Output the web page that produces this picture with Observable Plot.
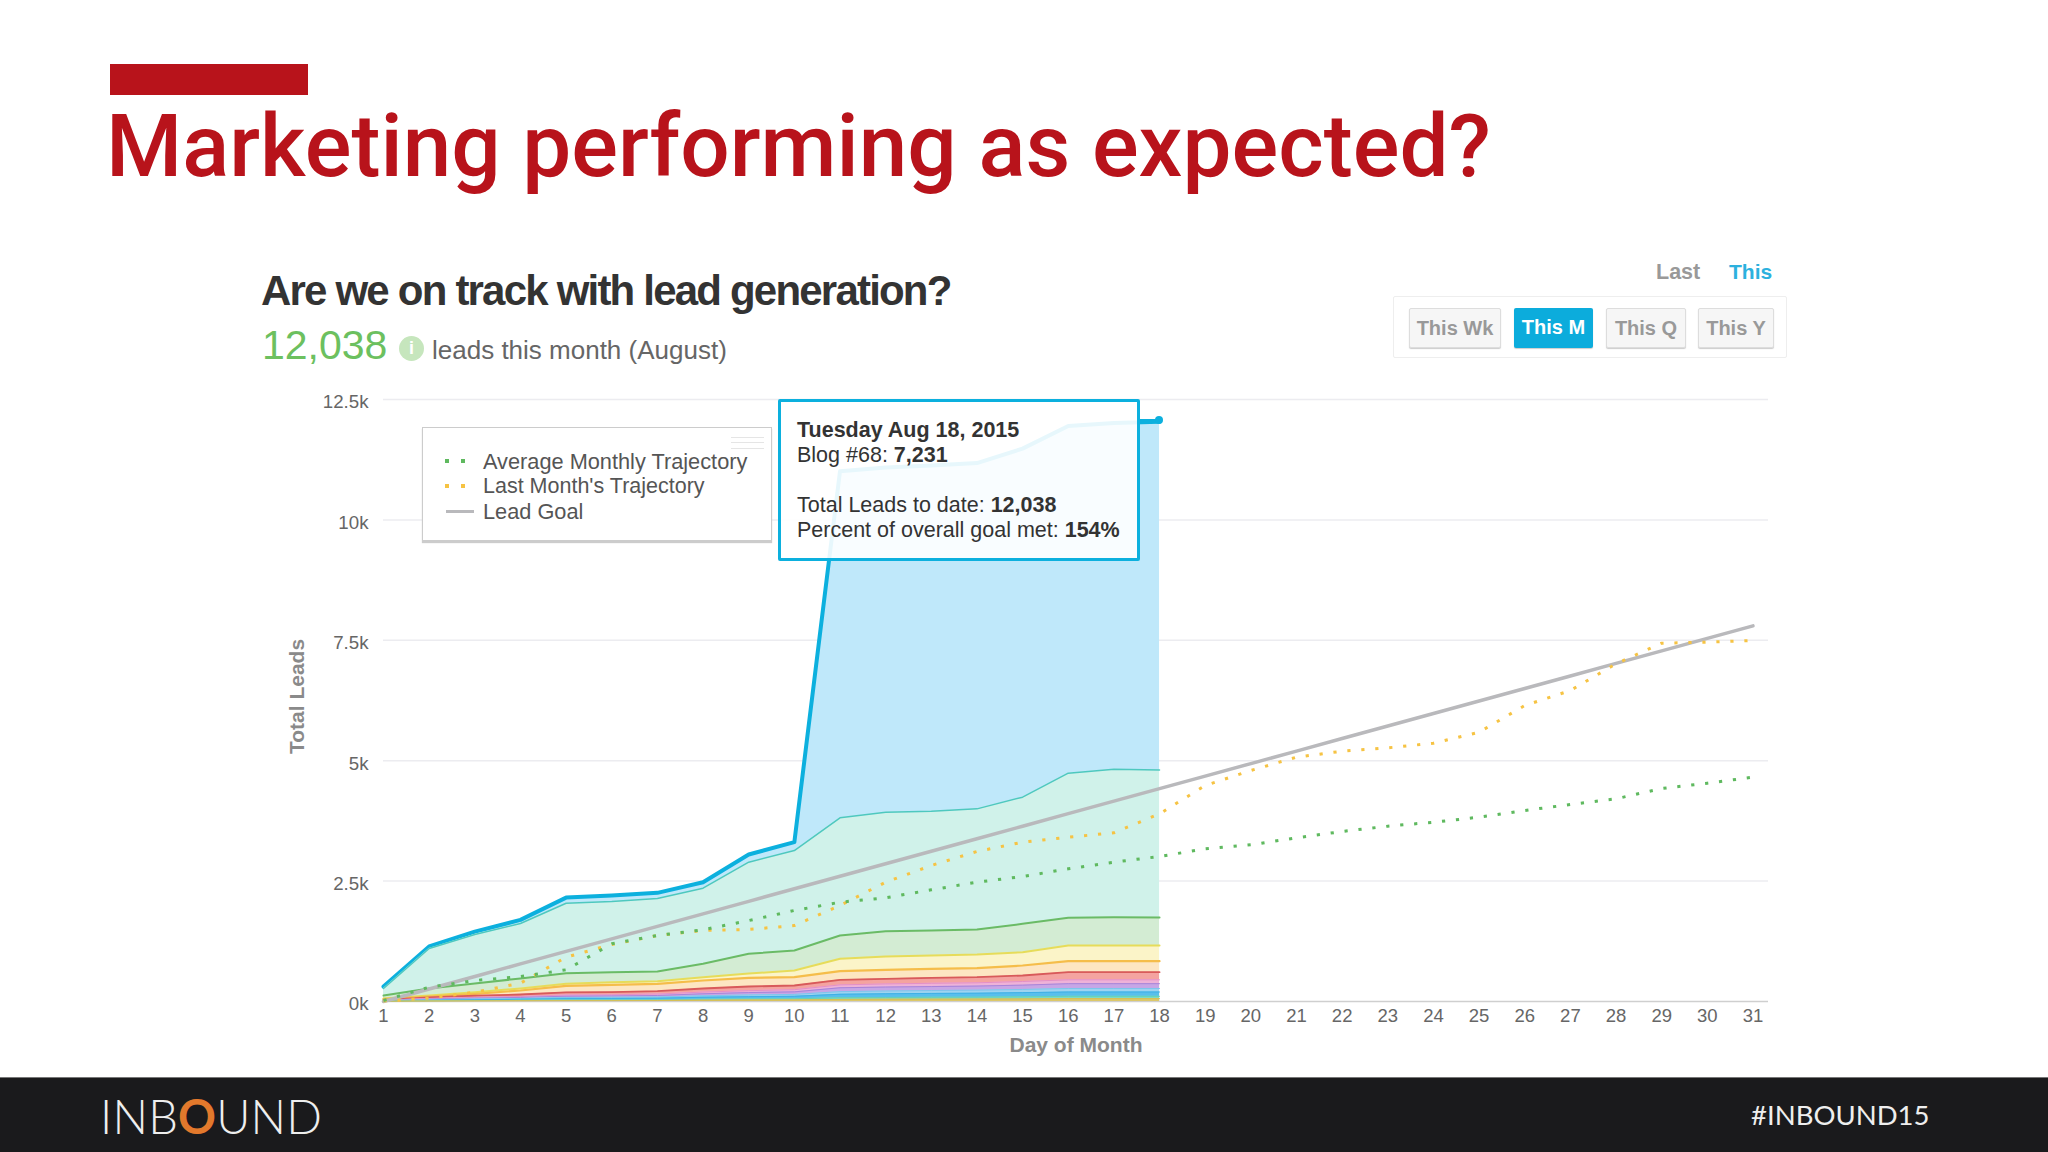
<!DOCTYPE html>
<html><head><meta charset="utf-8">
<script src="https://cdn.jsdelivr.net/npm/d3@7"></script>
<script src="https://cdn.jsdelivr.net/npm/@observablehq/plot@0.6"></script>
<style>
html,body{margin:0;padding:0;background:#fff;width:2048px;height:1152px;overflow:hidden;font-family:"Liberation Sans",Arial,sans-serif}
.a{position:absolute;white-space:nowrap;line-height:1}
#chart{position:absolute;left:270px;top:380px}
.btn{position:absolute;top:308px;height:38px;line-height:38px;text-align:center;font-size:20px;font-weight:bold;color:#999;background:#f6f6f6;border:1px solid #ddd;box-shadow:0 1px 1px #ccc;border-radius:2px}
.dot{position:absolute;width:4px;height:4px}
</style></head><body>
<div class="a" style="left:110px;top:64px;width:198px;height:31px;background:#b8131b"></div>
<div class="a" id="title" style="left:106px;top:95px;font:500 87.2px Roboto,sans-serif;color:#b8131b">Marketing performing as expected?</div>
<div class="a" style="left:261px;top:267px;font:bold 42px 'Liberation Sans';letter-spacing:-1.8px;color:#333">Are we on track with lead generation?</div>
<div class="a" style="left:262px;top:322px;font:400 41px 'Liberation Sans';color:#6cc05f">12,038</div>
<div class="a" style="left:399px;top:336px;width:25px;height:25px;border-radius:50%;background:#c6e6bd;color:#fff;font:bold 18px/25px 'Liberation Sans';text-align:center">i</div>
<div class="a" style="left:432px;top:335px;font:26px 'Liberation Sans';color:#666">leads this month (August)</div>
<div class="a" style="left:1656px;top:260px;font:bold 21.5px 'Liberation Sans';color:#999">Last</div>
<div class="a" style="left:1729px;top:260px;font:bold 21px 'Liberation Sans';color:#2cb1de">This</div>
<div class="a" style="left:1393px;top:296px;width:392px;height:60px;border:1px solid #eee;border-radius:2px"></div>
<div class="btn" style="left:1409px;width:90px">This Wk</div>
<div class="btn" style="left:1514px;width:79px;height:40px;background:#0cacdc;color:#fff;border:0">This M</div>
<div class="btn" style="left:1606px;width:78px">This Q</div>
<div class="btn" style="left:1698px;width:74px">This Y</div>
<div id="chart"></div>
<div class="a" style="left:422px;top:427px;width:348px;height:112px;background:#fff;border:1px solid #ccc;box-shadow:0 2px 1px #ccc"></div>
<div class="a" style="left:731px;top:437px;width:33px;height:10px;border-top:1px solid #e5e5e5;border-bottom:1px solid #e5e5e5"></div>
<div class="a" style="left:731px;top:442px;width:33px;height:1px;background:#e5e5e5"></div>
<div class="dot" style="left:445px;top:459px;background:#5fb95f"></div><div class="dot" style="left:461px;top:459px;background:#5fb95f"></div>
<div class="dot" style="left:445px;top:484px;background:#f6c343"></div><div class="dot" style="left:461px;top:484px;background:#f6c343"></div>
<div class="a" style="left:446px;top:510px;width:28px;height:3px;background:#b9b9bc"></div>
<div class="a" style="left:483px;top:449px;font:21.75px 'Liberation Sans';color:#555">Average Monthly Trajectory</div>
<div class="a" style="left:483px;top:474px;font:21.5px 'Liberation Sans';color:#555">Last Month's Trajectory</div>
<div class="a" style="left:483px;top:499px;font:21.75px 'Liberation Sans';color:#555">Lead Goal</div>
<div class="a" style="left:1137px;top:419px;width:22px;height:3px;background:#0cb0de"></div>
<div class="a" style="left:1155px;top:416px;width:8px;height:8px;border-radius:50%;background:#0cb0de"></div>
<div class="a" style="left:778px;top:399px;width:356px;height:156px;background:rgba(255,255,255,.9);border:3.5px solid #0cb0de;border-radius:2px"></div>
<div class="a" style="left:797px;top:418px;font:bold 21.5px 'Liberation Sans';color:#333">Tuesday Aug 18, 2015</div>
<div class="a" style="left:797px;top:443px;font:21.5px 'Liberation Sans';color:#333">Blog #68: <b>7,231</b></div>
<div class="a" style="left:797px;top:493px;font:21.5px 'Liberation Sans';color:#333">Total Leads to date: <b>12,038</b></div>
<div class="a" style="left:797px;top:518px;font:21.5px 'Liberation Sans';color:#333">Percent of overall goal met: <b>154%</b></div>
<div class="a" style="left:0;top:1077px;width:2048px;height:75px;background:#1a1a1c;border-top:1px solid #777;box-sizing:border-box"></div>
<div class="a" style="left:100px;top:1088px;font:300 47px Lato,sans-serif;letter-spacing:.2px;color:#eee">INB<span style="color:#e2792c;font-weight:700">O</span>UND</div>
<div class="a" style="left:1751px;top:1098px;font:400 27.5px Lato,sans-serif;color:#eee">#INBOUND15</div>
<script>
const days = d3.range(1, 32);
const yTicks = [0, 2500, 5000, 7500, 10000, 12500];
const yTickLabels = ["0k", "2.5k", "5k", "7.5k", "10k", "12.5k"];
const totalTop = [310,1142,1450,1695,2157,2200,2256,2477,3052,3308,11012,11090,11130,11180,11480,11950,12010,12038];
const tealTop = [270,1100,1391,1620,2041,2076,2139,2353,2893,3135,3814,3931,3952,4000,4243,4741,4824,4807];
const greenTop = [125,270,374,478,588,608,623,783,990,1059,1370,1460,1474,1495,1613,1738,1750,1744];
const yellowTop = [62,125,193,270,367,400,421,505,581,644,886,934,955,976,1024,1163,1163,1163];
const orangeTop = [48,104,160,228,326,346,367,436,492,505,629,658,678,691,747,837,837,837];
const salmonTop = [35,85,120,145,190,195,214,270,311,332,450,471,492,505,540,608,608,608];
const pinkTop = [25,60,85,105,135,140,155,195,225,245,345,365,378,388,415,450,450,450];
const purpleTop = [20,48,68,85,110,115,125,160,185,200,285,300,310,320,340,370,370,370];
const lightBlueTop = [15,35,50,62,82,86,92,118,135,147,205,218,228,235,250,270,270,270];
const blueTop = [11,26,36,46,60,62,68,88,100,108,150,160,168,172,184,197,197,197];
const aquaTop = [6,14,20,24,30,32,35,45,50,55,78,83,87,90,97,107,107,107];
const goldTop = [4,8,11,14,17,18,20,26,30,32,44,47,49,50,54,60,60,60];
const averageMonthly = [20,297,436,519,658,1198,1370,1489,1680,1890,2062,2153,2319,2477,2595,2755,2893,3011,3170,3254,3399,3530,3640,3723,3827,3966,4090,4209,4423,4533,4658];
const lastMonth = [10,70,193,380,920,1184,1370,1475,1495,1578,1993,2477,2824,3115,3308,3412,3502,3897,4485,4797,5073,5197,5267,5363,5592,6146,6458,7012,7440,7461,7496];
const leadGoal = [0,260,520,780,1040,1300,1560,1820,2080,2340,2600,2860,3120,3380,3640,3900,4160,4420,4680,4940,5200,5460,5720,5980,6240,6500,6760,7020,7280,7540,7800];
const layers = [
  [totalTop, "#bfe8fa", "#0cb0de", 4],
  [tealTop, "#d0f2ea", "#4ec8bf", 1.5],
  [greenTop, "#d3ecd3", "#6abb66", 2],
  [yellowTop, "#fbf4c8", "#e6dc5a", 2],
  [orangeTop, "#fde6c2", "#f5bd4a", 2.2],
  [salmonTop, "#f4a3a0", "#d85a5a", 1.8],
  [pinkTop, "#eeb2d8", "#e58fc5", 1],
  [purpleTop, "#c7a6e6", "#a984d8", 1],
  [lightBlueTop, "#9ed4f0", "#7fc4ec", 1],
  [blueTop, "#58bfec", "#3fb0e6", 1],
  [aquaTop, "#7ddac6", "#66d0b8", 1],
  [goldTop, "#dcc86a", "#d6bf55", 1]
];
const rows = vals => vals.map((v, i) => ({day: days[i], v}));
const layerMarks = layers.flatMap(([vals, fill, stroke, w]) => [
  Plot.areaY(rows(vals), {x: "day", y: "v", fill}),
  Plot.lineY(rows(vals), {x: "day", y: "v", stroke, strokeWidth: w})
]);
const dotted = {strokeWidth: 3, strokeDasharray: "3.2,10.8", strokeLinecap: "butt"};
const plot = Plot.plot({
  width: 1520, height: 681,
  marginLeft: 113, marginRight: 22, marginTop: 19, marginBottom: 60,
  style: {fontFamily: "'Liberation Sans',Arial,sans-serif", fontSize: "18px", background: "transparent"},
  x: {domain: [1, 31.34], label: null},
  y: {domain: [0, 12500], label: null},
  marks: [
    Plot.ruleY(yTicks.slice(1), {stroke: "#ececf0", strokeWidth: 1.5}),
    Plot.ruleY([0], {stroke: "#cfcfcf", strokeWidth: 1.5}),
    ...layerMarks,
    Plot.lineY(rows(leadGoal), {x: "day", y: "v", stroke: "#b9b9bc", strokeWidth: 3.5}),
    Plot.lineY(rows(lastMonth), {x: "day", y: "v", stroke: "#f6c343", ...dotted}),
    Plot.lineY(rows(averageMonthly), {x: "day", y: "v", stroke: "#5fb95f", ...dotted}),
    Plot.axisX({ticks: days, tickFormat: d => d, tickSize: 0, tickPadding: 7, color: "#666", fontSize: 18.5, label: null, anchor: "bottom"}),
    Plot.axisY({ticks: yTicks, tickFormat: d => yTickLabels[yTicks.indexOf(d)], tickSize: 0, tickPadding: 15, dy: 3, color: "#666", fontSize: 18.7, label: null, anchor: "left"}),
    Plot.text(["Total Leads"], {frameAnchor: "left", rotate: -90, dx: -86.5, dy: -4, textAnchor: "middle", fontWeight: "bold", fontSize: 21, fill: "#8a8a8a"}),
    Plot.text(["Day of Month"], {frameAnchor: "bottom", dy: 44, lineAnchor: "middle", fontWeight: "bold", fontSize: 21, fill: "#8a8a8a"})
  ]
});
document.getElementById("chart").appendChild(plot);
</script>
</body></html>
